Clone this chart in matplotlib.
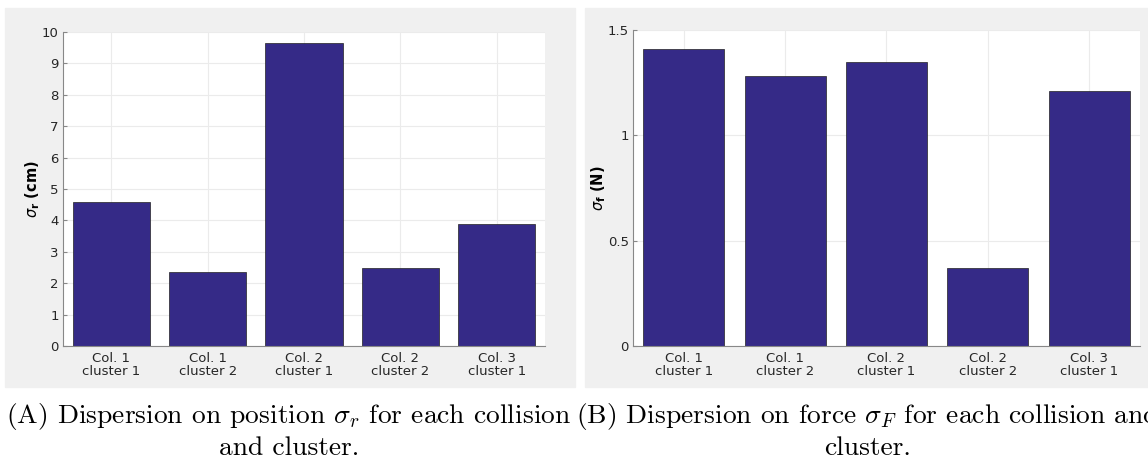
import numpy as np
import matplotlib.pyplot as plt
from matplotlib.patches import Rectangle

# data
labels = ['Col. 1\ncluster 1', 'Col. 1\ncluster 2', 'Col. 2\ncluster 1',
          'Col. 2\ncluster 2', 'Col. 3\ncluster 1']
sigma_r = [4.60, 2.36, 9.64, 2.48, 3.87]
sigma_f = [1.41, 1.28, 1.35, 0.37, 1.21]

bar_color = '#352A87'


def style_axes(ax, ylim, yticks, yticklabels, ylabel):
    ax.set_xlim(0.5, 5.5)
    ax.set_ylim(*ylim)
    ax.set_yticks(yticks)
    ax.set_yticklabels(yticklabels)
    ax.set_xticks(np.arange(1, 6))
    ax.set_xticklabels(labels, fontsize=9.5, color='#262626', linespacing=1.05)
    ax.tick_params(axis='y', labelsize=9.5, labelcolor='#262626', direction='in',
                   length=3, color='#888888', pad=3)
    ax.tick_params(axis='x', direction='in', length=0, pad=4)
    ax.grid(True, color='#ebebeb', linewidth=0.8)
    ax.set_axisbelow(True)
    for s in ['top', 'right']:
        ax.spines[s].set_visible(False)
    for s in ['left', 'bottom']:
        ax.spines[s].set_color('#888888')
        ax.spines[s].set_linewidth(0.8)
    ax.set_ylabel(ylabel, fontsize=10.5, fontweight='bold', labelpad=0)


def main():
    fig = plt.figure(figsize=(11.48, 4.62), dpi=100)

    # gray figure backgrounds
    fig.patches.append(Rectangle((0.0044, 0.162), 0.4965, 0.821,
                                 transform=fig.transFigure, color='#f0f0f0', zorder=-5))
    fig.patches.append(Rectangle((0.5096, 0.162), 0.4904, 0.821,
                                 transform=fig.transFigure, color='#f0f0f0', zorder=-5))

    ax1 = fig.add_axes([0.0549, 0.2511, 0.4199, 0.6797])
    x = np.arange(1, 6)
    ax1.bar(x, sigma_r, width=0.8, color=bar_color, edgecolor='#222222', linewidth=0.5)
    style_axes(ax1, (0, 10), np.arange(0, 11), [str(i) for i in range(11)],
               r'$\sigma_{\mathbf{r}}$ (cm)')

    ax2 = fig.add_axes([0.5514, 0.2511, 0.4416, 0.6840])
    ax2.bar(x, sigma_f, width=0.8, color=bar_color, edgecolor='#222222', linewidth=0.5)
    style_axes(ax2, (0, 1.5), [0, 0.5, 1, 1.5], ['0', '0.5', '1', '1.5'],
               r'$\sigma_{\mathbf{f}}$ (N)')

    # captions (the reference itself cuts the end of caption B at the right edge)
    cap = dict(fontsize=19.8, family='cmr10', math_fontfamily='cm',
               ha='center', va='center')
    fig.text(0.2515, 0.098, r'(A) Dispersion on position $\sigma_r$ for each collision', **cap)
    fig.text(0.2515, 0.030, 'and cluster.', **cap)
    fig.text(0.7560, 0.098, r'(B) Dispersion on force $\sigma_F$ for each collision and', **cap)
    fig.text(0.7560, 0.030, 'cluster.', **cap)

    fig.savefig('out.png', dpi=100)


main()
